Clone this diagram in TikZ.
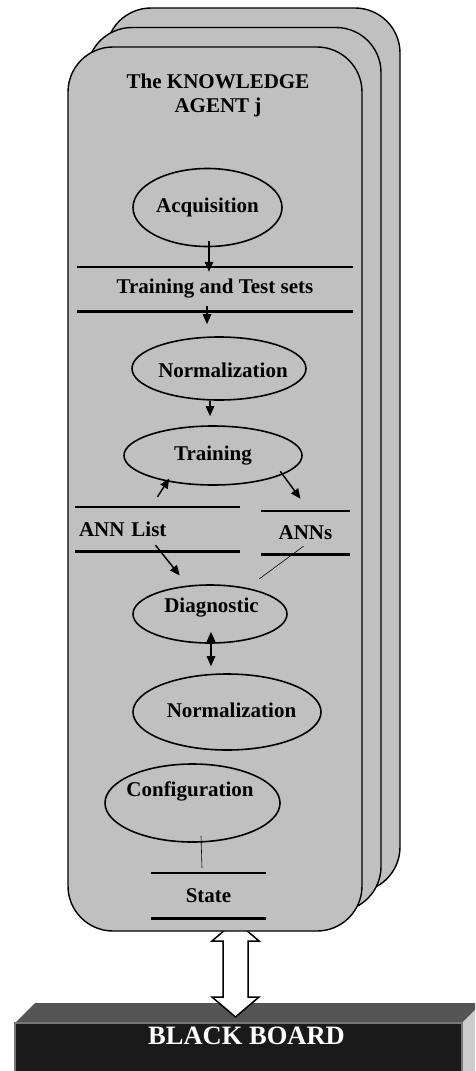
\documentclass[tikz,border=0pt]{standalone}
\usepackage{fontspec}
\setmainfont{Liberation Serif}
\usepackage{tikz}
\usetikzlibrary{arrows.meta,shapes.geometric}
\definecolor{cardgray}{RGB}{192,192,192}
\definecolor{boardblack}{RGB}{26,26,26}
\definecolor{boardtop}{RGB}{85,85,85}
\definecolor{boardside}{RGB}{204,204,204}

\begin{document}
\begin{tikzpicture}[x=1pt,y=-1pt,>={Triangle[length=10pt,width=8.5pt]},
  card/.style={draw,line width=1.4pt,fill=cardgray,rounded corners=45pt,minimum width=294pt,minimum height=884pt},
  txt/.style={font=\bfseries\fontsize{21}{24}\selectfont,inner sep=0pt},
  proc/.style={ellipse,draw,line width=1.6pt,txt},
  store/.style={txt,minimum height=44pt},
  flow/.style={->,line width=1.5pt},
  link/.style={line width=0.6pt}]
\useasboundingbox (0,0) rectangle (475,1071);
\clip (0,0) rectangle (475,1071);
% black board
\fill[boardtop] (15,1023) -- (35,1003) -- (482,1003) -- (462,1023) -- cycle;
\fill[boardside] (462,1023) -- (482,1003) -- (482,1080) -- (462,1080) -- cycle;
\draw[fill=boardblack,draw=boardtop!80,line width=1.5pt] (15,1023) rectangle (462,1080);
\node[txt,font=\bfseries\fontsize{26.5}{30}\selectfont,text=white] (board) at (246.5,1036) {BLACK BOARD};
% two-way link agent - board
\draw[fill=white,line width=1.5pt] (235.5,921) -- (259,941) -- (248,941) -- (248,997) -- (259,997)
  -- (235.5,1017) -- (212,997) -- (223,997) -- (223,941) -- (212,941) -- cycle;
% the agent cards
\foreach \i in {2,1}
  \node[card] (agent\i) at ({215+19*\i},{489-19.5*\i}) {};
\node[card] (agent) at (215,489) {};
\node[txt,align=center] (title) at (218,95) {The KNOWLEDGE\\AGENT j};

\node[proc,minimum width=149pt,minimum height=78pt] (acq) at (207.5,207.5) {Acquisition};
\node[store,minimum width=276pt] (tts) at (215,289) {Training and Test sets};
\node[proc,minimum width=174pt,minimum height=63pt,
  label={[txt,xshift=4pt,yshift=-1.5pt]center:Normalization}] (norm1) at (219,368.5) {};
\node[proc,minimum width=178pt,minimum height=59pt] (train) at (213,455.5) {Training};
\node[store,minimum width=165pt,text width=157pt,inner xsep=4pt,align=left] (annlist) at (157.5,529) {ANN List};
\node[store,minimum width=89pt,minimum height=43pt] (anns) at (305.5,532.5) {ANNs};
\node[proc,minimum width=154pt,minimum height=58pt,
  label={[txt,xshift=1.5pt,yshift=6pt]center:Diagnostic}] (diag) at (210,614) {};
\node[proc,minimum width=188pt,minimum height=76pt,
  label={[txt,xshift=4.5pt,yshift=2pt]center:Normalization}] (norm2) at (227,712) {};
\node[proc,minimum width=175pt,minimum height=78pt,
  label={[txt,xshift=-2.5pt,yshift=11.5pt]center:Configuration}] (conf) at (192.5,803) {};
\node[store,minimum width=115pt,minimum height=45pt] (state) at (208.5,895.5) {State};

\foreach \s in {tts,annlist,anns,state}
  \draw[line width=2.6pt] (\s.north west) -- (\s.north east) (\s.south west) -- (\s.south east);

\draw[flow] ([xshift=1.5pt,yshift=6pt]acq.south) -- ([xshift=-6pt,yshift=-5pt]tts.north);
\draw[flow] ([xshift=-8pt,yshift=5pt]tts.south) -- ([xshift=-12pt,yshift=12pt]norm1.north);
\draw[flow] ([xshift=-9pt]norm1.south) -- ([xshift=-3pt,yshift=9pt]train.north);
\draw[flow] ([yshift=10pt]annlist.north) -- ([shift={(3pt,3pt)}]train.209);
\draw[flow] ([shift={(-3pt,3pt)}]train.-15) -- ([xshift=-5pt,yshift=12pt]anns.north);
\draw[flow] ([xshift=-2pt,yshift=6pt]annlist.south) -- ([shift={(-8pt,10pt)}]diag.128);
\draw[link] ([xshift=-2pt,yshift=8pt]anns.south) -- ([shift={(12pt,9pt)}]diag.35);
\draw[<->,line width=1.5pt] ([xshift=1pt,yshift=12pt]diag.south) -- ([xshift=-16pt,yshift=7pt]norm2.north);
\draw[link] ([xshift=8.5pt,yshift=7pt]conf.south) -- ([xshift=-6.5pt,yshift=5pt]state.north);
\end{tikzpicture}
\end{document}
